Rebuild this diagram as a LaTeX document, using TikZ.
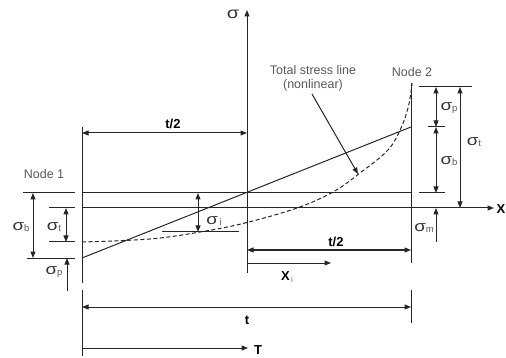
\documentclass[tikz,border=0pt]{standalone}
\usepackage{fontspec}
\setmainfont{Liberation Sans}
\usetikzlibrary{arrows.meta}
\newcommand\sigglyph[1]{\scalebox{1.25}[1]{\fontsize{#1}{#1}\selectfont σ}}
\newcommand\sig[2][15]{\sigglyph{#1}\raisebox{-1.5pt}{\fontsize{9.5}{9.5}\selectfont\color{black!65}#2}}
\begin{document}
\begin{tikzpicture}[x=1pt,y=-1pt,
  ln/.style={line width=1pt,draw=black!85},
  tipend/.style={ln,-{Triangle[length=6.5pt,width=5pt]}},
  dimline/.style={ln,{Triangle[length=6.5pt,width=5pt]}-{Triangle[length=6.5pt,width=5pt]}},
  blbl/.style={inner sep=0pt,font=\fontsize{13}{14}\selectfont\bfseries},
  glbl/.style={inner sep=0pt,text=black!65,font=\fontsize{12.5}{14}\selectfont},
  slbl/.style={inner sep=0pt,text=black!80}]
\useasboundingbox (0,0) rectangle (506,358);
% coordinates
\coordinate (L1t) at (82,127); \coordinate (L1b) at (82,283);
\coordinate (L2t) at (82,290); \coordinate (L2b) at (82,356);
\coordinate (Sb) at (247,273); \coordinate (St) at (247,10);
\coordinate (R1t) at (411,83); \coordinate (R1b) at (411,263);
\coordinate (R2t) at (411,290); \coordinate (R2b) at (411,323);
% vertical lines
\draw[ln] (L1t) -- (L1b);
\draw[ln] (L2t) -- (L2b);
\draw[tipend] (Sb) -- (St);
\draw[ln] (R1t) -- (R1b);
\draw[ln] (R2t) -- (R2b);
% main horizontal lines
\coordinate (Ua) at (82,193); \coordinate (Ub) at (411,193);
\draw[ln] (Ua) -- (Ub);
\coordinate (Xa) at (82,208); \coordinate (Xb) at (494,208);
\draw[tipend] (Xa) -- (Xb);
% left short lines
\coordinate (a1) at (23,193); \coordinate (a2) at (75,193);
\coordinate (b1) at (49,208); \coordinate (b2) at (75,208);
\coordinate (c1) at (49,242); \coordinate (c2) at (75,242);
\coordinate (d1) at (27,258); \coordinate (d2) at (75,258);
\draw[ln] (a1) -- (a2);
\draw[ln] (b1) -- (b2);
\draw[ln] (c1) -- (c2);
\draw[ln] (d1) -- (d2);
% right short lines
\coordinate (e1) at (419,87); \coordinate (e2) at (472,87);
\coordinate (f1) at (428,127); \coordinate (f2) at (445,127);
\coordinate (g1) at (419,193); \coordinate (g2) at (445,193);
\draw[ln] (e1) -- (e2);
\draw[ln] (f1) -- (f2);
\draw[ln] (g1) -- (g2);
% sigma_i line
\coordinate (i1) at (162,232); \coordinate (i2) at (239,232);
\draw[ln] (i1) -- (i2);
% linear stress line
\coordinate (P1) at (82,258); \coordinate (P2) at (411,127);
\draw[ln] (P1) -- (P2);
% total stress (dashed)
\draw[ln,dash pattern=on 4pt off 2.5pt] plot[smooth,tension=0.6] coordinates {(82,242) (150,239) (200,232) (245,223) (297,208) (333,192) (360,173) (388,150) (401,128) (408,108) (411,92) (412,83)};
% dimension arrows left
\coordinate (sb1) at (33,193); \coordinate (sb2) at (33,258);
\draw[dimline] (sb1) -- (sb2);
\coordinate (st1) at (66,208); \coordinate (st2) at (66,242);
\draw[dimline] (st1) -- (st2);
\coordinate (sp1) at (67,291); \coordinate (sp2) at (67,258);
\draw[tipend] (sp1) -- (sp2);
\coordinate (si1) at (198,193); \coordinate (si2) at (198,232);
\draw[dimline] (si1) -- (si2);
% dimension arrows right
\coordinate (rp1) at (436,87); \coordinate (rp2) at (436,127);
\draw[dimline] (rp1) -- (rp2);
\coordinate (rb1) at (436,127); \coordinate (rb2) at (436,193);
\draw[dimline] (rb1) -- (rb2);
\coordinate (rt1) at (460,87); \coordinate (rt2) at (460,208);
\draw[dimline] (rt1) -- (rt2);
\coordinate (rm1) at (436,242); \coordinate (rm2) at (436,208);
\draw[tipend] (rm1) -- (rm2);
% horizontal dimension arrows
\coordinate (h1a) at (82,133); \coordinate (h1b) at (247,133);
\draw[dimline] (h1a) -- (h1b);
\coordinate (h2a) at (247,250); \coordinate (h2b) at (411,250);
\draw[dimline] (h2a) -- (h2b);
\coordinate (h3a) at (247,263); \coordinate (h3b) at (331,263);
\draw[tipend] (h3a) -- (h3b);
\coordinate (h4a) at (82,307); \coordinate (h4b) at (411,307);
\draw[dimline] (h4a) -- (h4b);
\coordinate (h5a) at (82,348); \coordinate (h5b) at (248,348);
\draw[tipend] (h5a) -- (h5b);
% labels
\node[slbl] (lsig) at (233,14) {\sigglyph{16}};
\node[slbl] (lsbL) at (21,227) {\sig{b}};
\node[slbl] (lstL) at (54,227) {\sig{t}};
\node[slbl] (lspL) at (54,272) {\sig{p}};
\node[slbl] (lsi) at (214,221) {\sig{\,i}};
\node[slbl] (lspR) at (449,108) {\sig{p}};
\node[slbl] (lsbR) at (449,161) {\sig{b}};
\node[slbl] (lstR) at (474,142) {\sig{t}};
\node[slbl] (lsm) at (424,228) {\sig{m}};
\node[blbl] (lX) at (501,209) {X};
\node[blbl] (lt2a) at (173,124) {t/2};
\node[blbl] (lt2b) at (336,242) {t/2};
\node[blbl] (lxi) at (287,277) {X\raisebox{-2pt}{\fontsize{8}{8}\mdseries\color{black!60}\,i}};
\node[blbl] (lt) at (247,320) {t};
\node[blbl] (lT) at (258,350) {T};
\node[glbl] (n1) at (44,174) {Node 1};
\node[glbl] (n2) at (412,72) {Node 2};
\node[glbl,align=center] (tot) at (313,78) {Total stress line\\(nonlinear)};
\coordinate (ta) at (312,94); \coordinate (tb) at (358,174);
\draw[tipend] (ta) -- (tb);
\end{tikzpicture}
\end{document}
